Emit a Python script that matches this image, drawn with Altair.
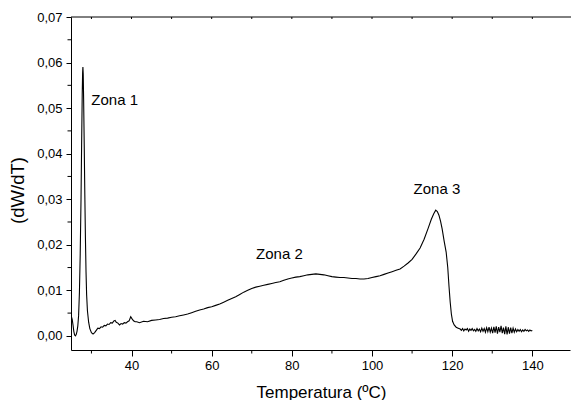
import altair as alt
import pandas as pd

# ---- data ----
temp_a = [25.0, 25.2, 25.4, 25.6, 25.8, 26.0, 26.2, 26.4, 26.6, 26.8, 27.0, 27.2, 27.4, 27.55, 27.7, 27.8,
          27.87, 27.95, 28.05, 28.2, 28.35, 28.5, 28.65, 28.8, 29.0, 29.3, 29.6, 30.0, 30.4, 30.8, 31.2,
          31.6, 32.0, 32.4, 32.8, 33.2, 33.6, 34.0, 34.4, 34.8, 35.2, 35.6, 35.9, 36.2, 36.6, 37.0, 37.4,
          37.8, 38.2, 38.6, 39.0, 39.4, 39.8, 40.1, 40.5, 40.9, 41.3]
dwdt_a = [0.0042, 0.0036, 0.0024, 0.0010, 0.0002, 0.0000, 0.0003, 0.0010, 0.0022, 0.0045, 0.0095, 0.0180,
          0.0300, 0.0420, 0.0530, 0.0578, 0.0590, 0.0575, 0.0520, 0.0420, 0.0310, 0.0215, 0.0140, 0.0090,
          0.0055, 0.0030, 0.0016, 0.0007, 0.0004, 0.0007, 0.0012, 0.0017, 0.0016, 0.0020, 0.0019, 0.0023,
          0.0022, 0.0026, 0.0025, 0.0029, 0.0028, 0.0033, 0.0034, 0.0030, 0.0028, 0.0024, 0.0027, 0.0026,
          0.0029, 0.0028, 0.0031, 0.0033, 0.0042, 0.0038, 0.0033, 0.0031, 0.0031]

temp_b = [42, 43, 44, 45, 46, 47, 48, 49, 50, 51, 52, 53, 54, 55, 56, 57]
dwdt_b = [0.0029, 0.0032, 0.0031, 0.0034, 0.0035, 0.0036, 0.0038, 0.0039, 0.0041, 0.0042, 0.0044, 0.0046,
          0.0048, 0.0051, 0.0054, 0.0057]

temp_c = [58, 59, 60, 61, 62, 63, 64, 65, 66, 67, 68, 69, 70, 71, 72, 73, 74, 75, 76, 77, 78, 79, 80,
          81, 82, 83, 84, 85, 86, 87, 88, 89, 90, 91, 92, 93, 94, 95, 96, 97, 98, 99, 100, 101, 102]
dwdt_c = [0.0059, 0.0062, 0.0064, 0.0067, 0.0070, 0.0074, 0.0078, 0.0082, 0.0086, 0.0091, 0.0096, 0.0100,
          0.0104, 0.0107, 0.0109, 0.0111, 0.0113, 0.0115, 0.0117, 0.0119, 0.0122, 0.0125, 0.0127, 0.0129,
          0.0130, 0.0132, 0.0134, 0.0135, 0.0136, 0.0135, 0.0134, 0.0132, 0.0130, 0.0129, 0.0128, 0.0128,
          0.0127, 0.0126, 0.0126, 0.0125, 0.0125, 0.0126, 0.0128, 0.0130, 0.0132]

temp_d = [103, 104, 105, 106, 107, 108, 109, 110, 111, 112, 113, 114, 114.8, 115.4, 115.9, 116.3, 116.7,
          117.1, 117.5, 118.0, 118.5, 118.9, 119.2, 119.5, 119.8, 120.1, 120.5, 121.0, 121.5]
dwdt_d = [0.0135, 0.0138, 0.0141, 0.0144, 0.0147, 0.0153, 0.0160, 0.0168, 0.0180, 0.0193, 0.0212, 0.0236,
          0.0256, 0.0268, 0.0276, 0.0273, 0.0265, 0.0252, 0.0235, 0.0208, 0.0184, 0.0150, 0.0110, 0.0075,
          0.0048, 0.0032, 0.0024, 0.0019, 0.0017]

temp_e = [122, 122.3, 122.6, 122.9, 123.2, 123.5, 123.8, 124.1, 124.4, 124.7, 125, 125.3, 125.6, 125.9,
          126.2, 126.5, 126.8, 127.1, 127.4, 127.7, 128, 128.3, 128.6, 128.9, 129.2, 129.5, 129.8, 130.1,
          130.4, 130.7, 131, 131.3, 131.6, 131.9, 132.2, 132.5, 132.8, 133.1, 133.4, 133.7, 134, 134.3,
          134.6, 134.9, 135.2, 135.5, 135.8, 136.1, 136.4, 136.7, 137, 137.3, 137.6, 137.9, 138.2, 138.5,
          138.8, 139.1, 139.4, 139.7, 140]
dwdt_e = [0.0015, 0.0012, 0.0016, 0.0011, 0.0015, 0.0013, 0.0016, 0.0010, 0.0015, 0.0012, 0.0016, 0.0011,
          0.0014, 0.0010, 0.0016, 0.0011, 0.0015, 0.0009, 0.0017, 0.0010, 0.0016, 0.0008, 0.0018, 0.0009,
          0.0019, 0.0008, 0.0017, 0.0006, 0.0020, 0.0007, 0.0021, 0.0005, 0.0019, 0.0008, 0.0022, 0.0006,
          0.0018, 0.0004, 0.0021, 0.0003, 0.0019, 0.0005, 0.0018, 0.0006, 0.0017, 0.0008, 0.0015, 0.0009,
          0.0014, 0.0010, 0.0014, 0.0009, 0.0013, 0.0010, 0.0014, 0.0011, 0.0013, 0.0010, 0.0013, 0.0011,
          0.0012]

x_major = [40, 60, 80, 100, 120, 140]
x_minor = [30, 50, 70, 90, 110, 130]
x_top = [30, 40, 50, 60, 70, 80, 90, 100, 110, 120, 130, 140]
y_major = [0.0, 0.01, 0.02, 0.03, 0.04, 0.05, 0.06, 0.07]
y_minor = [0.005, 0.015, 0.025, 0.035, 0.045, 0.055, 0.065]

label_text = ["Zona 1", "Zona 2", "Zona 3"]
label_x = [35.8, 76.9, 116.2]
label_y = [0.0518, 0.0180, 0.0322]

# ---- build ----
W, H = 499, 333
FONT = "Liberation Sans"

df = pd.DataFrame({
    "T": temp_a + temp_b + temp_c + temp_d + temp_e,
    "D": dwdt_a + dwdt_b + dwdt_c + dwdt_d + dwdt_e,
})
xs = alt.Scale(domain=[24.9, 149.4], nice=False, zero=False)
ys = alt.Scale(domain=[-0.0031, 0.07], nice=False, zero=False)

xaxis = alt.Axis(
    values=x_major, title="Temperatura (ºC)", grid=False, domainColor="black", tickColor="black",
    tickSize=6, labelFontSize=13, labelPadding=3, labelColor="black", labelFont=FONT,
    titleFont=FONT, titleFontSize=17, titleFontWeight="normal", titleColor="black",
    titleX=250, titleY=42, titleBaseline="middle", titleAlign="center")
yaxis = alt.Axis(
    values=y_major, format=".2f", labelExpr="replace(datum.label, '.', ',')", title="(dW/dT)",
    grid=False, domainColor="black", tickColor="black", tickSize=5, labelFontSize=13,
    labelPadding=4, labelColor="black", labelFont=FONT, titleFont=FONT, titleFontSize=18.5,
    titleFontWeight="normal", titleColor="black", titleX=-54, titleY=173, titleAngle=270,
    titleBaseline="middle", titleAlign="center")

line = alt.Chart(df).mark_line(color="black", strokeWidth=1.1).encode(
    x=alt.X("T:Q", scale=xs, axis=xaxis),
    y=alt.Y("D:Q", scale=ys, axis=yaxis),
)

xminor = alt.Chart(pd.DataFrame({"T": x_minor})).mark_rule(color="black", strokeWidth=1).encode(
    x=alt.X("T:Q", scale=xs, axis=xaxis), y=alt.value(H), y2=alt.value(H + 3.5))

xtop = alt.Chart(pd.DataFrame({"T": x_top})).mark_rule(color="black", strokeWidth=1).encode(
    x=alt.X("T:Q", scale=xs, axis=xaxis), y=alt.value(0), y2=alt.value(2))

topline = alt.Chart(pd.DataFrame({"T": [0]})).mark_rule(color="black", strokeWidth=1).encode(
    x=alt.value(0), x2=alt.value(W + 2), y=alt.value(0))

yminor = alt.Chart(pd.DataFrame({"D": y_minor})).mark_rule(color="black", strokeWidth=1).encode(
    y=alt.Y("D:Q", scale=ys, axis=yaxis), x=alt.value(0), x2=alt.value(-3.5))

labels = alt.Chart(pd.DataFrame({"t": label_text, "T": label_x, "D": label_y})).mark_text(
    font=FONT, fontSize=15, color="black", align="center", baseline="middle").encode(
    x=alt.X("T:Q", scale=xs, axis=xaxis), y=alt.Y("D:Q", scale=ys, axis=yaxis), text="t:N")

chart = alt.layer(line, xminor, xtop, topline, yminor, labels).properties(
    width=W, height=H,
    autosize=alt.AutoSizeParams(type="none"),
    padding={"left": 71, "top": 17, "right": 1, "bottom": 50},
    background="white",
).configure_view(stroke=None)

chart.save("out.html", embed_options={"renderer": "svg", "actions": False})
